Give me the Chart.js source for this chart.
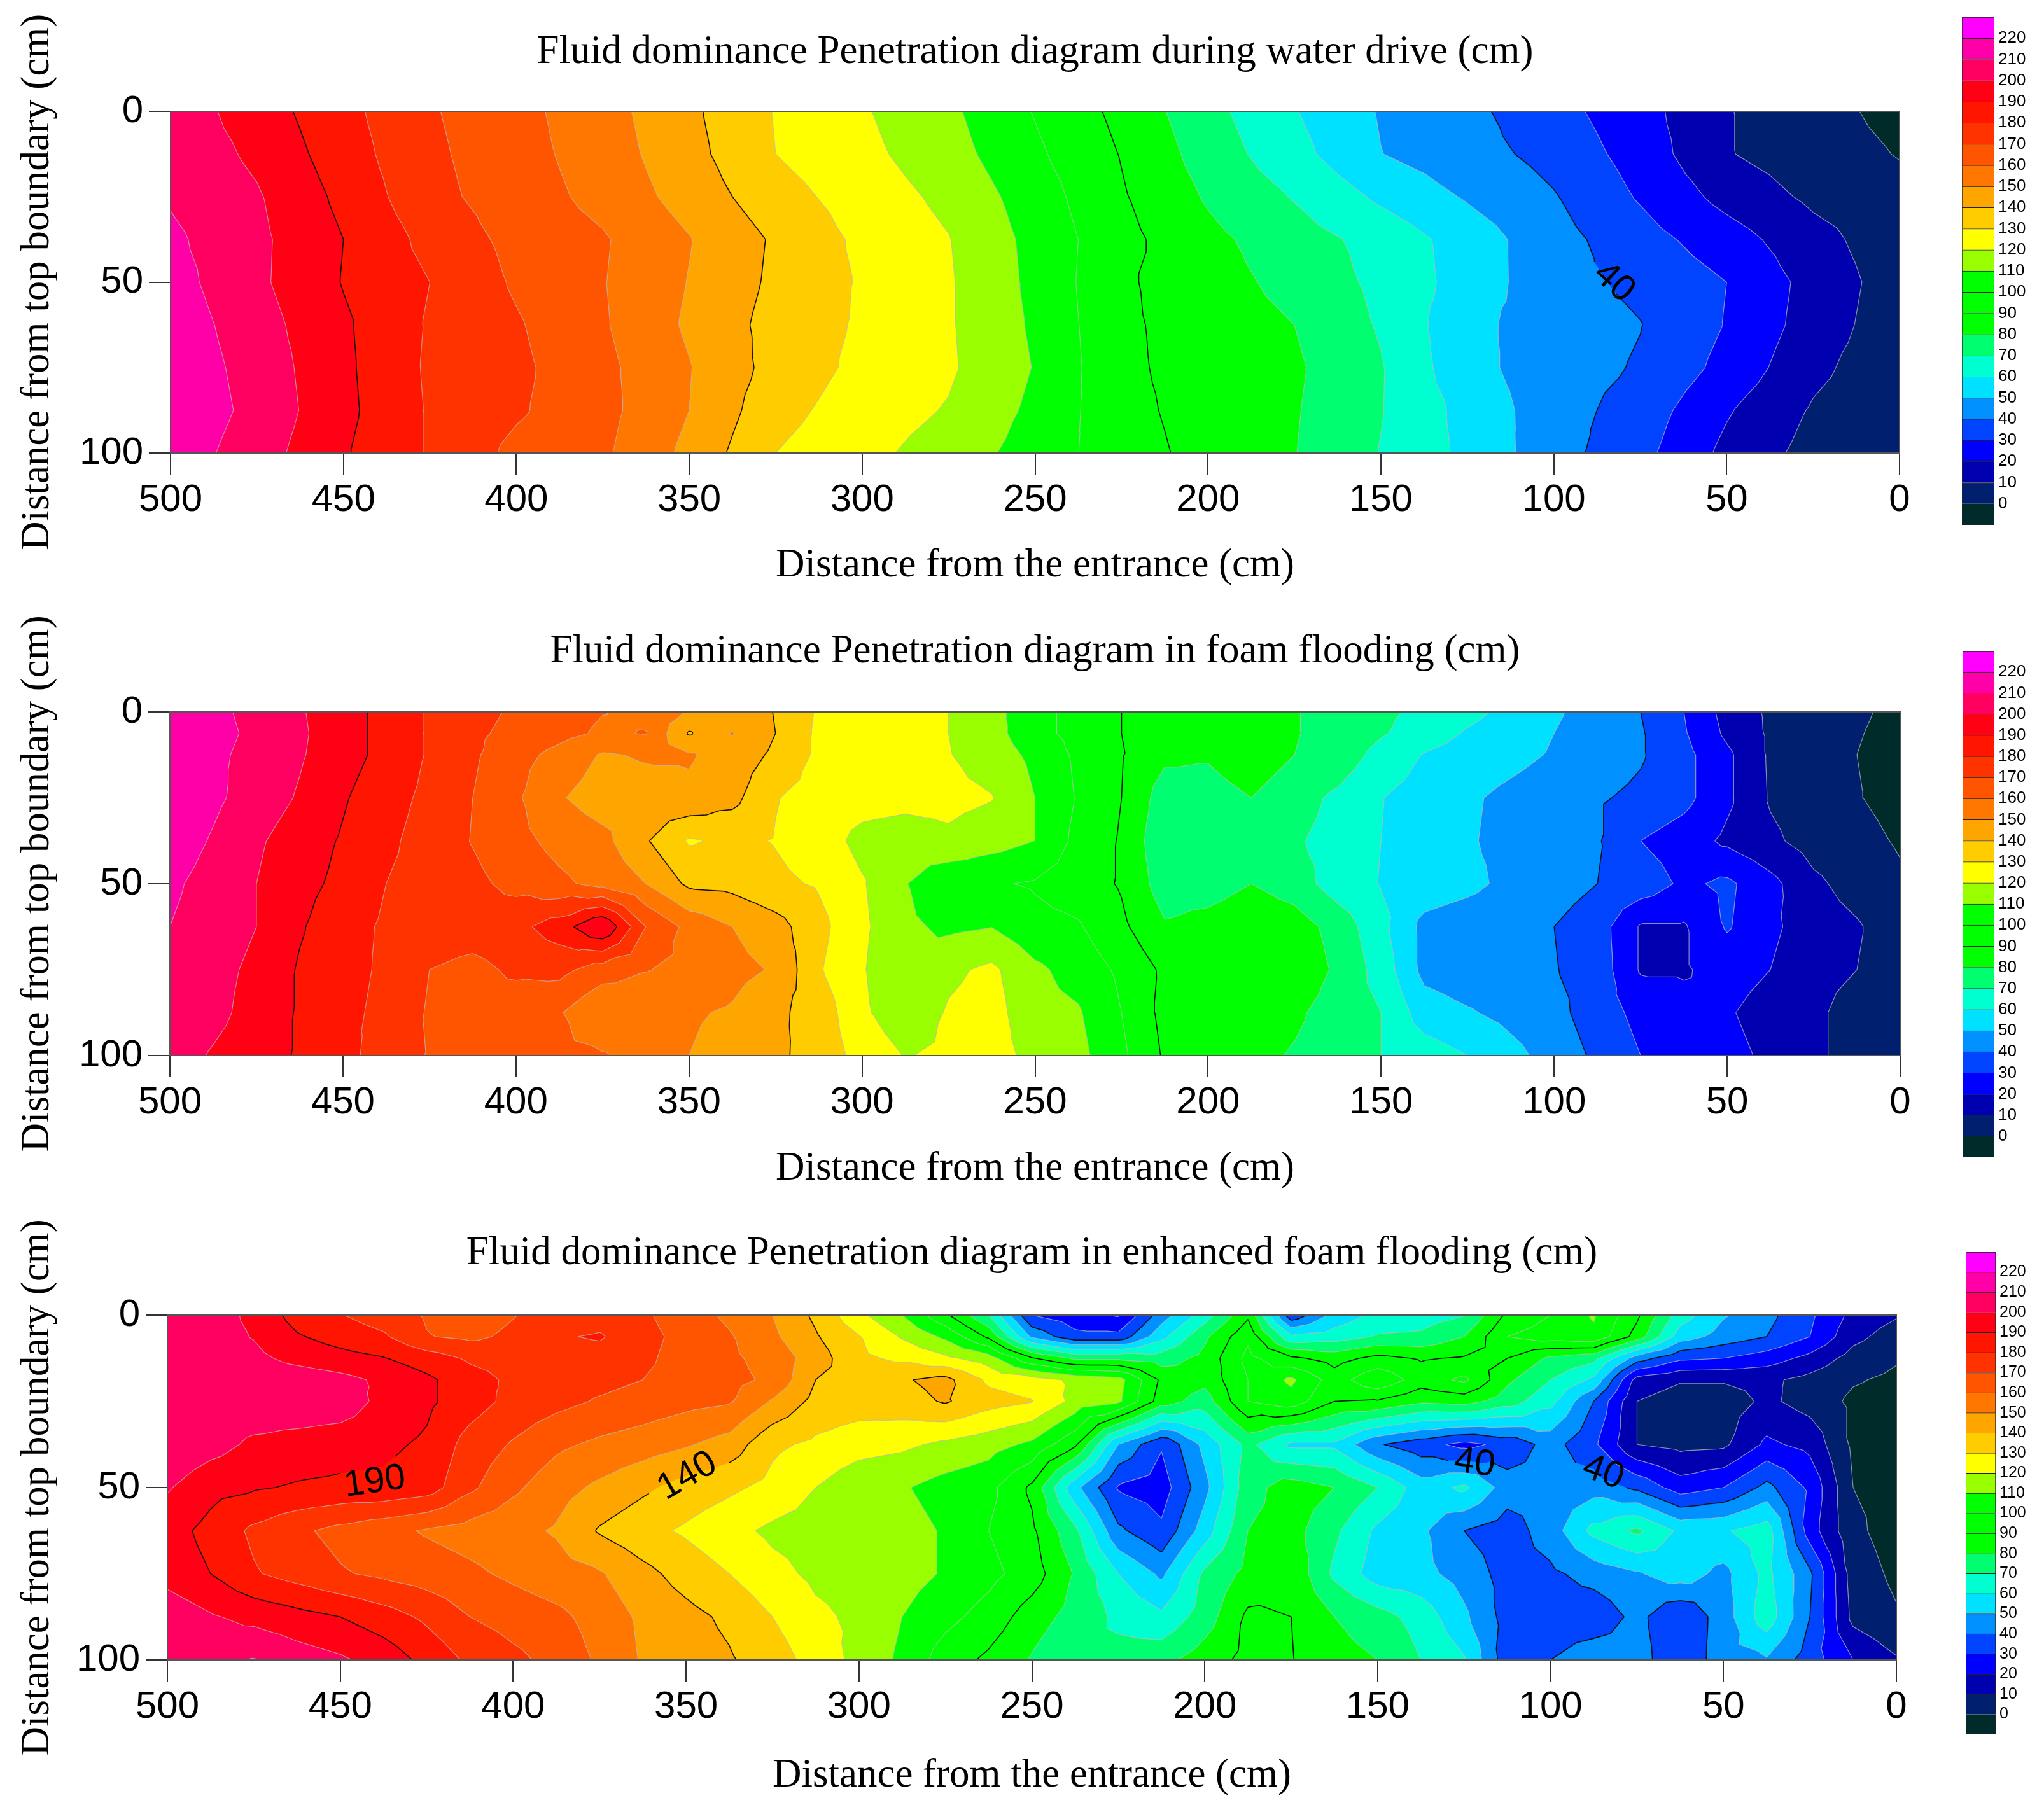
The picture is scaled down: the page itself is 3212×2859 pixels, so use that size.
<!DOCTYPE html>
<html>
<head>
<meta charset="utf-8">
<title>Fluid dominance penetration diagrams</title>
<script src="https://cdn.jsdelivr.net/npm/chart.js@4"></script>
<style>
    html, body { margin: 0; background: #fff; width: 3212px; height: 2859px; overflow: hidden; }
    canvas { position: absolute; }
</style>
</head>
<body>
<script>
// 등고선 구간 (각 구간의 아래 경계값과 색)
const levels = [0, 10, 20, 30, 40, 50, 60, 70, 80, 90, 100, 110, 120, 130, 140, 150, 160, 170, 180, 190, 200, 210, 220];
const bandColors = ['#002b2b', '#001f6f', '#0000b0', '#0000ff', '#0044ff', '#0090ff', '#00e0ff', '#00ffd0', '#00ff70', '#00ff00', '#00ff00', '#00ff00',
    '#99ff00', '#ffff00', '#ffcc00', '#ffa500', '#ff7700', '#ff5500', '#ff3300', '#ff1500', '#ff0015', '#ff0060', '#ff00a8', '#ff00ff'];
const majorLevels = [40, 90, 140, 190];
const xTicks = [500, 450, 400, 350, 300, 250, 200, 150, 100, 50, 0];
const yTicks = [0, 50, 100];

const xTitle = 'Distance from the entrance (cm)';
const yTitle = 'Distance from top boundary (cm)';
const waterTitle = 'Fluid dominance Penetration diagram during water drive (cm)';
const foamTitle = 'Fluid dominance Penetration diagram in foam flooding (cm)';
const enhancedTitle = 'Fluid dominance Penetration diagram in enhanced foam flooding (cm)';

// 물 주입: x 25 cm 간격, y 12.5 cm 간격
const waterX = [500, 475, 450, 425, 400, 375, 350, 325, 300, 275, 250, 225, 200, 175, 150, 125, 100, 75, 50, 25, 0];
const waterY = [0, 12.5, 25, 37.5, 50, 62.5, 75, 87.5, 100];
const waterZ = [
    [206, 195, 183, 171, 163, 154, 142, 129.4, 121, 112, 99.4, 87.3, 73.2, 60.6, 49.2, 42.5, 33.5, 23.8, 10.6, 3.5, -3],
    [207, 198, 184.7, 172, 163.8, 155.2, 143.3, 130, 122.7, 114, 101.8, 89.5, 75.7, 63.3, 50.2, 43.9, 36.8, 25.8, 10.6, 4.7, -0.5],
    [209, 201, 187.5, 173, 165, 157, 146, 134, 125.5, 117.6, 105, 91, 78.9, 69.3, 58.1, 49, 40.7, 29, 16.8, 8, 3],
    [212, 202.2, 190, 177, 167, 161, 150.5, 138.6, 127.9, 120.4, 107, 93, 82.5, 74.5, 66.5, 55.5, 43.7, 34, 24.5, 13.5, 4],
    [214, 202, 189.5, 180, 168.7, 160.5, 149.6, 138, 129, 121, 107.6, 91.5, 84, 77, 67.6, 55.8, 43.6, 37.8, 30, 16.5, 5],
    [216, 204.2, 191.5, 179, 171, 161, 148.5, 136.4, 128.7, 121, 108.5, 91.8, 85.3, 80, 69, 52.5, 45.5, 40.3, 29.5, 15.5, 4],
    [217, 206, 192, 178.5, 172.2, 162.5, 150.5, 136.5, 127.5, 121.4, 109.5, 92, 85.8, 81.5, 70.7, 53, 45, 39, 27, 12.5, 3],
    [218, 207, 192.5, 179, 171.3, 163, 150, 133.5, 125, 119.3, 107.8, 93, 86, 80.8, 70.5, 56.7, 44.5, 35.5, 21, 9, 2],
    [216, 204.6, 191, 179, 167.5, 161.6, 147.5, 130, 122.7, 115.7, 105.6, 94.5, 86.6, 80.3, 69.6, 57.6, 44, 33, 17.5, 6.5, 1.5]
];

// 폼 주입 / 강화 폼 주입: x 12.5 cm 간격
const fineX = [500, 487.5, 475, 462.5, 450, 437.5, 425, 412.5, 400, 387.5, 375, 362.5, 350, 337.5, 325, 312.5, 300, 287.5, 275, 262.5, 250,
    237.5, 225, 212.5, 200, 187.5, 175, 162.5, 150, 137.5, 125, 112.5, 100, 87.5, 75, 62.5, 50, 37.5, 25, 12.5, 0];
const foamY = [0, 6.25, 12.5, 25, 37.5, 50, 62.5, 75, 87.5, 100];
const enhancedY = [0, 6.25, 12.5, 18.75, 25, 37.5, 50, 62.5, 75, 87.5, 100];

const foamZ = [
    [218, 212.5, 207, 201, 194, 187, 179, 173.5, 168.4, 164, 160.3, 157, 149, 144, 139.5, 128.7, 125.7, 122.8, 120, 113, 104, 96, 90, 87.6, 85.2, 82.9, 80.5, 76.5, 72.2, 67.6, 62.7, 57.4, 51.4, 45.7, 40, 30, 16.4, 8.3, 4.8, 1.2, -2],
    [218, 213, 208, 201.5, 194.5, 186.5, 179, 172, 167, 163, 158.5, 160.5, 139, 150.5, 140, 128, 125, 122.5, 120, 114, 103, 97, 90, 87, 85, 84, 80.5, 77, 71, 65, 59, 55, 50, 45, 41, 31, 18, 8.5, 4.5, 0.5, -2.5],
    [217, 212, 207, 201, 194, 187, 179, 171.5, 163.5, 157, 149, 151, 151, 146, 138, 128, 126, 123, 120.5, 115, 107.6, 98, 90.5, 82, 81, 86, 80, 76, 66.5, 59.5, 56, 53, 49, 45, 41, 33, 22, 8.5, 4.5, 0, -3],
    [218, 212, 205.5, 199, 191, 184, 177.5, 170, 161.5, 151, 145, 146, 148, 143, 130.5, 126, 124, 123, 123, 120.5, 110, 99, 90, 75, 76, 80, 74, 68, 60.3, 56, 51.5, 47.5, 44, 41, 38, 33, 22, 9, 4.5, 0.5, -3],
    [216, 209, 201.5, 195, 189, 182, 176, 169.5, 163, 157, 153, 141, 129, 132, 129.5, 125, 117, 115, 118, 114, 110, 97, 89, 72, 75, 75, 71, 67, 60, 56, 51, 47, 44, 41, 30, 25, 18, 12, 6, 3, -1],
    [212, 206, 200, 193, 187.6, 180, 176, 172.5, 167, 162, 157, 150, 138, 137, 132, 129, 121, 110.5, 102, 101, 99, 95, 89, 75, 75, 80, 75, 65, 59.5, 56, 53, 47, 44, 40, 36, 28, 32, 23, 12, 6, 1.5],
    [210, 205, 200, 191, 184, 178.5, 176, 175, 177, 185, 200, 170, 157, 150, 144, 133, 122, 112, 108, 109.8, 103, 101, 92, 81, 84, 88, 85, 76, 63, 47, 43.5, 41, 40, 35, 19, 19, 31, 22, 15, 11, 4],
    [207, 203, 198, 189, 184, 178, 170, 167, 172, 173, 165, 160.5, 157, 153, 149, 131, 121, 110, 118, 122, 112, 106, 98, 88, 89, 90, 88, 78, 66, 47, 44, 42.5, 40.5, 36, 19, 19, 24, 20, 13, 10, 5],
    [207, 203, 196, 189, 183, 177, 169, 166, 164, 161, 150, 152, 151, 149, 142, 136, 122, 113, 121, 124, 113, 111, 100, 87, 86, 85.5, 82, 75, 70, 55, 51, 47, 43, 35, 27, 23, 21, 16, 12, 6, 3],
    [205, 199, 194, 189, 184, 174, 169.5, 168, 165.5, 163, 161, 156, 150, 147, 142.5, 135, 127, 119.5, 122, 124, 117, 113, 102, 88.7, 86, 83, 79, 74, 70, 65, 60, 53, 46, 38, 30, 26, 23, 18, 12, 6, 1]
];

const enhancedZ = [
    [208, 204, 198, 186, 180.5, 175, 169, 165, 169.5, 173, 176, 171.5, 165, 158, 150, 138, 122.5, 110, 92, 70, 30, 24, 19, 45, 65, 88, 33, 53, 63, 65, 69.5, 92, 100, 111, 92, 65, 51, 43, 32, 17, 11],
    [208, 204, 199.5, 191, 186, 181.5, 170.5, 168, 172, 179, 181, 173, 167, 161, 152, 141, 130.5, 119, 108, 88, 48, 33, 33, 57, 78, 98, 62, 65, 71, 72, 80, 100, 105, 108, 86, 55, 46, 40, 30, 13, 5],
    [208, 205, 202.5, 197, 193.5, 190.5, 185, 178.5, 176, 175, 176, 172, 166, 162, 156, 145, 132, 128, 122, 115, 91, 78, 78, 75, 83, 103, 92, 86, 93, 89, 91, 90, 78, 73, 45, 32, 30, 25, 17, 6, 1],
    [208, 207, 207, 206, 203, 198, 192, 184, 178, 175, 173, 170, 166, 163, 158, 140, 136, 139, 143, 128, 124.5, 118, 114, 88, 83, 100, 112, 95, 108, 95, 102, 82, 70, 58, 16, 11, 11, 12, 7, 1, -2],
    [207, 207, 207, 207, 206, 197, 192, 184.5, 177, 173, 169, 166, 163, 161, 149, 137, 135, 136, 141, 134, 130.5, 117, 112, 85, 75, 100, 106, 90, 89, 82, 84, 75, 63, 40, 10, 5, 5, 12, 6, -2, -4],
    [209, 204, 198, 196, 194, 192, 188.5, 176, 169, 162, 158, 155, 151, 146, 132, 128, 124, 122, 118, 114, 108, 92, 50, 31, 53, 73, 58, 58, 41, 34, 27, 33, 44, 32, 10, 7, 8, 22, 17, -2, -3],
    [201, 193, 191, 189, 188, 188, 185, 172, 162, 154, 148, 142, 136, 132, 127, 120, 113, 111, 106, 103, 88, 53, 29, 25, 47, 76, 85, 80, 70, 55, 62, 45, 44, 46, 38, 25, 30, 43, 28, 0, -3],
    [194, 187, 178, 172, 167, 163, 159, 156, 153, 149, 139, 133, 128.5, 123, 118, 116, 115, 114, 109, 100, 92, 72, 42, 32, 55, 80, 84, 72, 58, 52, 40, 35, 45, 63, 72, 58, 59, 65, 25, 2, -4],
    [196, 190, 181, 176, 171, 168, 165, 162, 158, 154, 151, 143, 136, 130, 123, 118, 116, 114, 109, 103, 95, 79, 60, 48, 72, 83, 88, 68, 55, 53, 46, 36, 38, 44, 49, 55, 47, 63, 42, 5, -2],
    [207, 201, 197, 193.5, 190, 184.5, 178, 170, 166, 162.5, 156, 148, 143, 138, 130, 122, 118, 110, 103, 96, 85, 76, 68, 62, 75, 92, 90, 80, 74, 66, 52, 36, 33, 33, 43, 31, 45, 66, 40, 7, 1],
    [207, 208, 210.5, 205, 201.5, 196, 187, 178, 172.5, 166.8, 158.4, 149, 145, 141, 135, 126, 117, 108, 95, 88, 79, 70, 73, 77, 85, 93, 90.5, 84, 80, 70, 61, 34, 40, 47, 45, 31, 46, 49, 35, 20, 11]
];

// 등고선 위 글자 [x, y, 값, 회전각]
const waterLabels = [[82.6, 50.1, 40, 42]];
const foamLabels = [];
const enhancedLabels = [[440, 48.4, 190, -8], [349.6, 46.7, 140, -30], [122, 43, 40, 8], [84.8, 45.7, 40, 20]];

const serifFont = '"Liberation Serif", "Times New Roman", serif';
const sansFont = '"Liberation Sans", Arial, sans-serif';

// 삼각형에서 z >= level 인 부분의 다각형과 등고선 조각을 구한다
function cutTriangle(tri, level) {
    const poly = [];
    const cross = [];
    for (let i = 0; i < 3; i++) {
        const a = tri[i];
        const b = tri[(i + 1) % 3];
        if (a.z >= level) poly.push(a);
        if ((a.z >= level) !== (b.z >= level)) {
            const t = (level - a.z) / (b.z - a.z);
            const p = { x: a.x + (b.x - a.x) * t, y: a.y + (b.y - a.y) * t, z: level };
            poly.push(p);
            cross.push(p);
        }
    }
    return { poly, cross };
}

function buildTriangles(xs, ys, zs) {
    const tris = [];
    for (let r = 0; r < ys.length - 1; r++) {
        for (let c = 0; c < xs.length - 1; c++) {
            const p = [
                { x: xs[c], y: ys[r], z: zs[r][c] },
                { x: xs[c + 1], y: ys[r], z: zs[r][c + 1] },
                { x: xs[c + 1], y: ys[r + 1], z: zs[r + 1][c + 1] },
                { x: xs[c], y: ys[r + 1], z: zs[r + 1][c] }
            ];
            const mid = {
                x: (p[0].x + p[1].x) / 2,
                y: (p[0].y + p[3].y) / 2,
                z: (p[0].z + p[1].z + p[2].z + p[3].z) / 4
            };
            for (let i = 0; i < 4; i++) tris.push([p[i], p[(i + 1) % 4], mid]);
        }
    }
    return tris;
}

function buildContours(tris, labels) {
    const fills = [];
    const datasets = [];
    levels.forEach((level, idx) => {
        const polys = [];
        const line = [];
        const near = labels.filter(l => l[2] === level);
        tris.forEach(tri => {
            const { poly, cross } = cutTriangle(tri, level);
            if (poly.length > 2) polys.push(poly);
            if (cross.length === 2) {
                const mx = (cross[0].x + cross[1].x) / 2;
                const my = (cross[0].y + cross[1].y) / 2;
                // 글자 자리의 선은 끊는다
                const hidden = near.some(l => Math.hypot(mx - l[0], my - l[1]) < (l[2] > 99 ? 11 : 7));
                if (!hidden) line.push({ x: cross[0].x, y: cross[0].y }, { x: cross[1].x, y: cross[1].y }, { x: NaN, y: NaN });
            }
        });
        fills.push({ color: bandColors[idx + 1], polys });
        const major = majorLevels.includes(level);
        datasets.push({
            label: String(level),
            data: line,
            showLine: true,
            spanGaps: false,
            pointRadius: 0,
            borderWidth: major ? 1.6 : 1.2,
            borderColor: major ? '#111' : 'rgba(185,185,185,0.75)'
        });
    });
    return { fills, datasets };
}

function renderPanel(box, title, xs, ys, zs, labels) {
    const canvas = document.createElement('canvas');
    canvas.width = box.right + 100;
    canvas.height = box.height;
    canvas.style.left = '0px';
    canvas.style.top = box.top + 'px';
    document.body.appendChild(canvas);

    const { fills, datasets } = buildContours(buildTriangles(xs, ys, zs), labels);

    const contourPlugin = {
        id: 'contourPlugin',
        beforeDatasetsDraw(chart) {
            const { ctx, chartArea, scales } = chart;
            ctx.save();
            ctx.beginPath();
            ctx.rect(chartArea.left, chartArea.top, chartArea.width, chartArea.height);
            ctx.clip();
            ctx.fillStyle = bandColors[0];
            ctx.fillRect(chartArea.left, chartArea.top, chartArea.width, chartArea.height);
            fills.forEach(band => {
                ctx.fillStyle = band.color;
                ctx.beginPath();
                band.polys.forEach(poly => {
                    poly.forEach((p, i) => {
                        const px = scales.x.getPixelForValue(p.x);
                        const py = scales.y.getPixelForValue(p.y);
                        if (i === 0) ctx.moveTo(px, py); else ctx.lineTo(px, py);
                    });
                    ctx.closePath();
                });
                ctx.fill();
            });
            ctx.restore();
        },
        afterDatasetsDraw(chart) {
            const { ctx, chartArea, scales } = chart;
            ctx.save();
            ctx.strokeStyle = '#555';
            ctx.lineWidth = 2;
            ctx.strokeRect(chartArea.left, chartArea.top, chartArea.width, chartArea.height);
            ctx.fillStyle = '#000';
            ctx.font = '58px ' + sansFont;
            ctx.textAlign = 'center';
            ctx.textBaseline = 'middle';
            labels.forEach(l => {
                ctx.save();
                ctx.translate(scales.x.getPixelForValue(l[0]), scales.y.getPixelForValue(l[1]));
                ctx.rotate(l[3] * Math.PI / 180);
                ctx.fillText(String(l[2]), 0, 0);
                ctx.restore();
            });
            ctx.restore();
        }
    };

    return new Chart(canvas.getContext('2d'), {
        type: 'scatter',
        data: { datasets },
        plugins: [contourPlugin],
        options: {
            responsive: false,
            animation: false,
            devicePixelRatio: 1,
            layout: { padding: { right: 100 } },
            plugins: {
                legend: { display: false },
                tooltip: { enabled: false },
                title: {
                    display: true,
                    text: title,
                    fullSize: false,
                    color: '#000',
                    font: { family: serifFont, size: 63, lineHeight: 1, weight: 'normal' },
                    padding: { top: box.titleY - box.top - 31, bottom: box.plotTop - box.titleY - 32 }
                }
            },
            scales: {
                x: {
                    type: 'linear',
                    reverse: true,
                    min: 0,
                    max: 500,
                    afterBuildTicks: s => { s.ticks = xTicks.map(v => ({ value: v })); },
                    afterFit: s => { s.height = box.top + box.height - box.bottom; s.paddingLeft = 0; s.paddingRight = 0; },
                    ticks: { color: '#000', font: { family: sansFont, size: 60 }, padding: 4, maxRotation: 0, autoSkip: false },
                    grid: { drawOnChartArea: false, tickLength: 34, color: '#333', lineWidth: 2 },
                    border: { color: '#333', width: 2 },
                    title: {
                        display: true,
                        text: xTitle,
                        color: '#000',
                        font: { family: serifFont, size: 63, lineHeight: 1 },
                        padding: { top: 0, bottom: box.top + box.height - box.xTitleY - 31 }
                    }
                },
                y: {
                    type: 'linear',
                    reverse: true,
                    min: 0,
                    max: 100,
                    afterBuildTicks: s => { s.ticks = yTicks.map(v => ({ value: v })); },
                    afterFit: s => { s.width = box.left; s.paddingTop = 0; s.paddingBottom = 0; },
                    ticks: { color: '#000', font: { family: sansFont, size: 60 }, padding: 9, autoSkip: false },
                    grid: { drawOnChartArea: false, tickLength: 34, color: '#333', lineWidth: 2 },
                    border: { color: '#333', width: 2 },
                    title: {
                        display: true,
                        text: yTitle,
                        color: '#000',
                        font: { family: serifFont, size: 63, lineHeight: 1 },
                        padding: { top: 28, bottom: 0 }
                    }
                }
            }
        }
    });
}

function renderColorBar(box) {
    const canvas = document.createElement('canvas');
    canvas.width = box.width + 100;
    canvas.height = box.height;
    canvas.style.left = box.left + 'px';
    canvas.style.top = box.top + 'px';
    document.body.appendChild(canvas);

    const datasets = bandColors.map((color, i) => ({
        data: [[i === 0 ? -10 : levels[i - 1], i === levels.length ? 230 : levels[i]]],
        backgroundColor: color,
        borderColor: '#222',
        borderWidth: 1,
        barPercentage: 1,
        categoryPercentage: 1
    }));

    return new Chart(canvas.getContext('2d'), {
        type: 'bar',
        data: { labels: [''], datasets },
        options: {
            responsive: false,
            animation: false,
            devicePixelRatio: 1,
            plugins: { legend: { display: false }, tooltip: { enabled: false } },
            scales: {
                x: { display: false, stacked: true },
                y: {
                    position: 'right',
                    min: -10,
                    max: 230,
                    afterBuildTicks: s => { s.ticks = levels.map(v => ({ value: v })); },
                    afterFit: s => { s.width = 100; s.paddingTop = 0; s.paddingBottom = 0; },
                    ticks: { color: '#000', font: { family: sansFont, size: box.font }, padding: 6, autoSkip: false },
                    grid: { display: false, drawTicks: false },
                    border: { display: false }
                }
            }
        }
    });
}

renderPanel({ top: 0, height: 950, left: 268, right: 2985, plotTop: 175, bottom: 712, titleY: 82, xTitleY: 890 }, waterTitle, waterX, waterY, waterZ, waterLabels);
renderPanel({ top: 950, height: 950, left: 267, right: 2986, plotTop: 1119, bottom: 1659, titleY: 1024, xTitleY: 1838 }, foamTitle, fineX, foamY, foamZ, foamLabels);
renderPanel({ top: 1900, height: 959, left: 263, right: 2980, plotTop: 2067, bottom: 2609, titleY: 1970, xTitleY: 2792 }, enhancedTitle, fineX, enhancedY, enhancedZ, enhancedLabels);

renderColorBar({ left: 3083, top: 27, width: 51, height: 798, font: 26 });
renderColorBar({ left: 3084, top: 1023, width: 50, height: 796, font: 26 });
renderColorBar({ left: 3089, top: 1968, width: 47, height: 758, font: 25 });
</script>
</body>
</html>
